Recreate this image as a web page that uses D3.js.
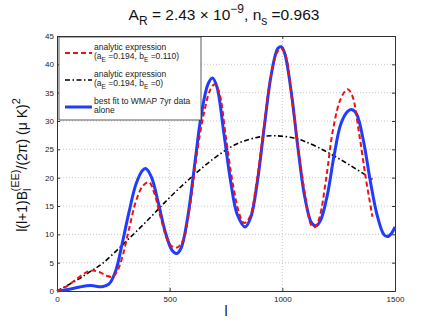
<!DOCTYPE html>
<html>
<head>
<meta charset="utf-8">
<script src="https://cdn.jsdelivr.net/npm/d3@7"></script>
<style>
  body { margin: 0; background: #fff; }
  svg text { font-family: "Liberation Sans", Arial, sans-serif; }
</style>
</head>
<body>
<div id="chart"></div>
<script>
// values (l, l(l+1)B_l/2pi)
var blueL = [0,50,100,150,200,230,260,290,320,350,380,395,420,450,480,510,530,550,580,610,640,670,690,710,740,770,800,835,860,890,920,950,980,995,1010,1040,1070,1100,1130,1150,1170,1200,1230,1260,1290,1310,1330,1360,1390,1420,1450,1466,1485,1500];
var blueV = [0,0.25,0.7,0.95,0.75,1.2,3.5,8.5,14,18.8,21.3,21.6,20,15.5,10.5,7.2,6.6,7.5,13,22,31,36.5,37.6,36,28,19.5,13.5,11.3,13,19.5,29,38,42.8,43.1,42,35,25,16.5,12,11.5,12.5,17,24,29.5,31.7,32,31.2,26.5,19.5,13.5,10,9.6,10.2,11.3];

var redL = [0,30,60,100,130,160,190,220,245,265,290,320,350,380,408,430,460,490,510,535,560,590,620,650,680,700,720,750,780,810,830,855,885,915,945,975,995,1015,1045,1075,1105,1130,1145,1165,1195,1225,1260,1289,1310,1340,1370,1400];
var redV = [0,0.5,1.3,2.5,3.3,3.6,3.3,2.7,2.5,3.3,6,11,15.8,18.5,19.2,17.5,13,9,7.9,7.7,9,15,24,31,35.5,36.5,35,27,19,13.5,12,13,19,28,37,42,42.8,41.5,33,24,16,11.5,11.3,13,20,28.5,34,35.6,34.5,28,20,13.1];

var blackL = [0,100,150,200,300,400,500,600,700,800,900,970,1050,1100,1200,1300,1400];
var blackV = [0,2.2,3.5,4.8,8.5,12.4,16.5,20.2,23.5,26,27.2,27.4,27,26.4,24.5,22.2,19.7];

var xTicks = [0, 500, 1000, 1500];
var yTicks = [0, 5, 10, 15, 20, 25, 30, 35, 40, 45];

var width = 437, height = 327;
var margin = {left: 57, right: 42, top: 36, bottom: 36};

var svg = d3.select("#chart").append("svg")
    .attr("width", width)
    .attr("height", height);

var x = d3.scaleLinear().domain([0, 1500]).range([margin.left, width - margin.right]);
var y = d3.scaleLinear().domain([0, 45]).range([height - margin.bottom, margin.top]);

// grid
svg.append("g").selectAll("line")
    .data(xTicks.slice(1, -1))
    .enter().append("line")
    .attr("x1", function(d) { return x(d); })
    .attr("x2", function(d) { return x(d); })
    .attr("y1", y(0)).attr("y2", y(45))
    .attr("stroke", "#bbb").attr("stroke-width", 0.8)
    .attr("stroke-dasharray", "1,2");
svg.append("g").selectAll("line")
    .data(yTicks.slice(1, -1))
    .enter().append("line")
    .attr("y1", function(d) { return y(d); })
    .attr("y2", function(d) { return y(d); })
    .attr("x1", x(0)).attr("x2", x(1500))
    .attr("stroke", "#bbb").attr("stroke-width", 0.8)
    .attr("stroke-dasharray", "1,2");

// axes, ticks pointing inward
var xAxis = svg.append("g")
    .attr("transform", "translate(0," + y(0) + ")")
    .call(d3.axisBottom(x).tickValues(xTicks).tickSize(-3).tickPadding(5).tickFormat(d3.format("d")));
var yAxis = svg.append("g")
    .attr("transform", "translate(" + x(0) + ",0)")
    .call(d3.axisLeft(y).tickValues(yTicks).tickSize(-3).tickPadding(3));
svg.append("g")
    .attr("transform", "translate(0," + y(45) + ")")
    .call(d3.axisTop(x).tickValues(xTicks).tickSize(-3).tickFormat(""));
svg.append("g")
    .attr("transform", "translate(" + x(1500) + ",0)")
    .call(d3.axisRight(y).tickValues(yTicks).tickSize(-3).tickFormat(""));

svg.selectAll(".domain").attr("stroke", "#333");
svg.selectAll(".tick line").attr("stroke", "#333");
svg.selectAll(".tick text").attr("font-size", 8).attr("fill", "#222")
    .style("font-family", "Liberation Sans, Arial, sans-serif");

// curves
function series(ls, vs) {
    return ls.map(function(l, i) { return [l, vs[i]]; });
}
var line = d3.line()
    .x(function(d) { return x(d[0]); })
    .y(function(d) { return y(d[1]); })
    .curve(d3.curveCatmullRom.alpha(0.5));

svg.append("path").datum(series(blackL, blackV))
    .attr("d", line).attr("fill", "none")
    .attr("stroke", "#000").attr("stroke-width", 1.6)
    .attr("stroke-dasharray", "5,2.5,1.5,2.5");
svg.append("path").datum(series(blueL, blueV))
    .attr("d", line).attr("fill", "none")
    .attr("stroke", "#1f3cff").attr("stroke-width", 3);
svg.append("path").datum(series(redL, redV))
    .attr("d", line).attr("fill", "none")
    .attr("stroke", "#ee1111").attr("stroke-width", 2)
    .attr("stroke-dasharray", "5,3");

// legend
var lg = svg.append("g");
lg.append("rect")
    .attr("x", 59).attr("y", 37).attr("width", 142).attr("height", 83)
    .attr("fill", "#fff").attr("stroke", "#333").attr("stroke-width", 0.8);

var legendItems = [
    {color: "#ee1111", dash: "5,3", w: 2, l1: "analytic expression", b: "0.110", y: 47},
    {color: "#000", dash: "5,2.5,1.5,2.5", w: 1.6, l1: "analytic expression", b: "0", y: 74},
    {color: "#1f3cff", dash: null, w: 3, l1: "best fit to WMAP 7yr data", l2: "alone", y: 101}
];
legendItems.forEach(function(it) {
    lg.append("line")
        .attr("x1", 65).attr("x2", 92)
        .attr("y1", it.y + 6).attr("y2", it.y + 6)
        .attr("stroke", it.color).attr("stroke-width", it.w)
        .attr("stroke-dasharray", it.dash);
    lg.append("text").attr("x", 94).attr("y", it.y + 3)
        .attr("font-size", 8.5).attr("fill", "#222").text(it.l1);
    var t2 = lg.append("text").attr("x", 94).attr("y", it.y + 12)
        .attr("font-size", 8.5).attr("fill", "#222");
    if (it.l2) {
        t2.text(it.l2);
    } else {
        t2.append("tspan").text("(a");
        t2.append("tspan").attr("font-size", 6.5).attr("dy", 2.5).text("E");
        t2.append("tspan").attr("dy", -2.5).text(" =0.194, b");
        t2.append("tspan").attr("font-size", 6.5).attr("dy", 2.5).text("E");
        t2.append("tspan").attr("dy", -2.5).text(" =" + it.b + ")");
    }
});

// title
var title = svg.append("text")
    .attr("x", 224).attr("y", 20)
    .attr("text-anchor", "middle")
    .attr("font-size", 15.5).attr("fill", "#111");
title.append("tspan").text("A");
title.append("tspan").attr("font-size", 12).attr("dy", 5).text("R");
title.append("tspan").attr("dy", -5).text(" = 2.43 \u00d7 10");
title.append("tspan").attr("font-size", 12).attr("dy", -7).text("\u22129");
title.append("tspan").attr("dy", 7).text(", n");
title.append("tspan").attr("font-size", 12).attr("dy", 5).text("s");
title.append("tspan").attr("dy", -5).text(" =0.963");

// x label
svg.append("text")
    .attr("x", 226).attr("y", 316)
    .attr("text-anchor", "middle")
    .attr("font-size", 14).attr("fill", "#111")
    .text("l");

// y label
var yl = svg.append("text")
    .attr("transform", "translate(27,165) rotate(-90)")
    .attr("text-anchor", "middle")
    .attr("font-size", 14).attr("fill", "#111");
yl.append("tspan").text("l(l+1)B");
yl.append("tspan").attr("font-size", 11).attr("dy", 4).text("l");
yl.append("tspan").attr("font-size", 11).attr("dx", -3).attr("dy", -12).text("(EE)");
yl.append("tspan").attr("dy", 8).text("/(2\u03c0) (\u03bc K)");
yl.append("tspan").attr("font-size", 11).attr("dy", -7).text("2");
</script>
</body>
</html>
